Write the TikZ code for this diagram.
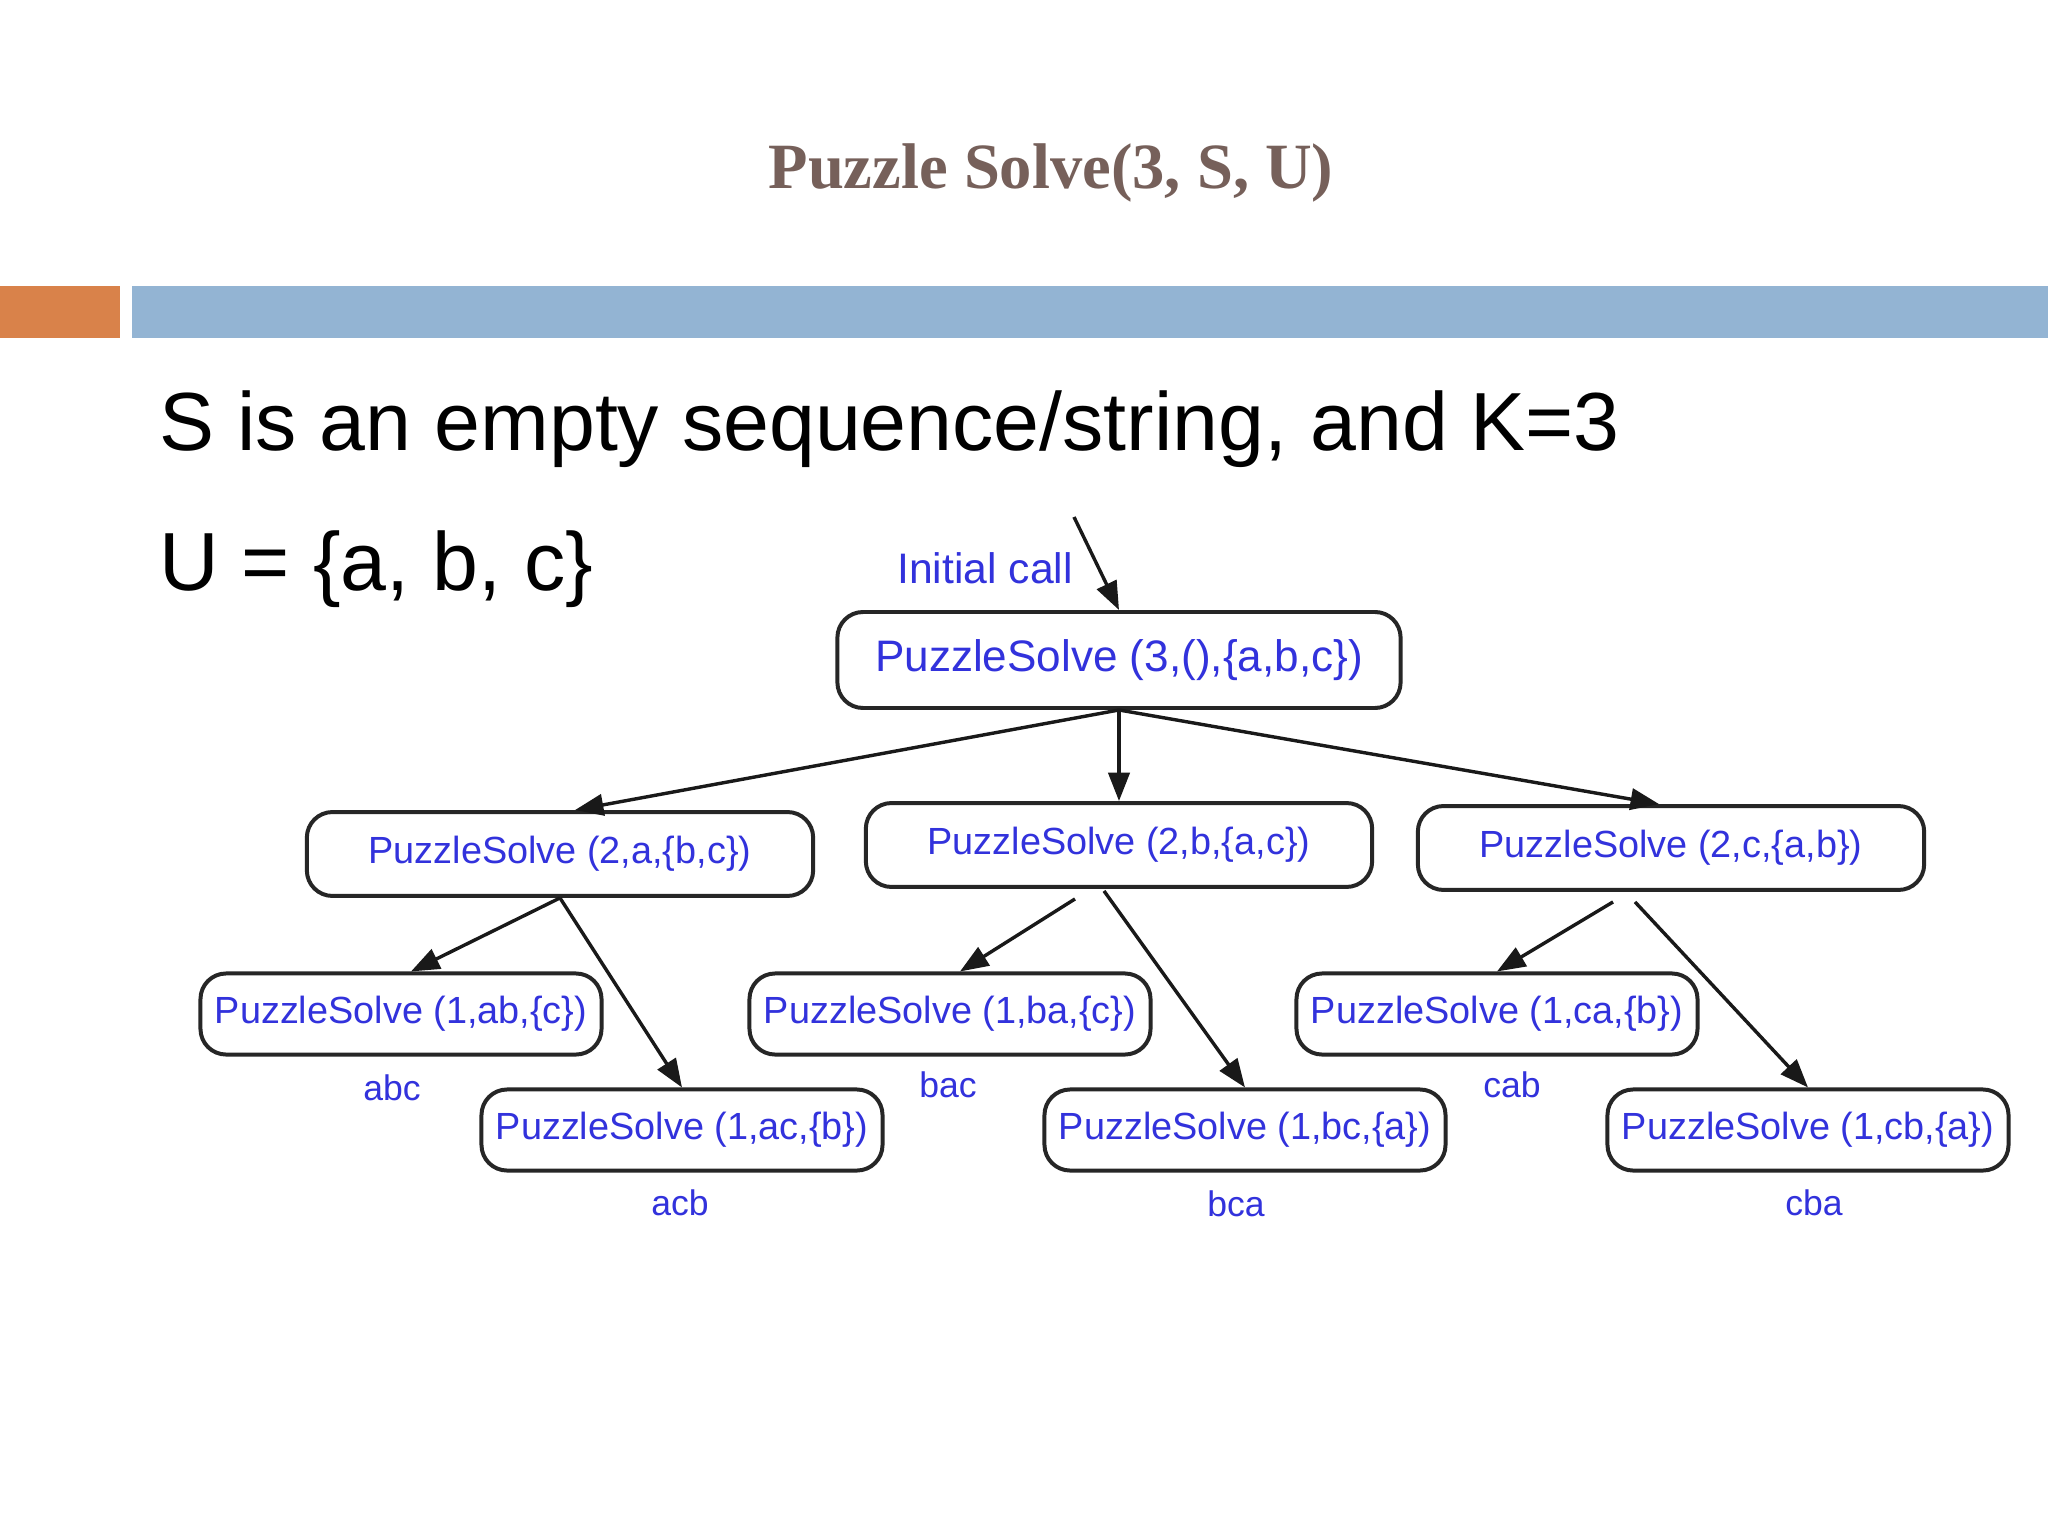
\documentclass[tikz,border=0pt]{standalone}
\usepackage{fontspec}
\setmainfont{Liberation Sans}
\newfontfamily\titlefont{Liberation Serif}
\usetikzlibrary{arrows.meta,calc}
\definecolor{titlebrown}{HTML}{76605A}
\definecolor{barorange}{HTML}{D9824A}
\definecolor{barblue}{HTML}{93B4D3}
\definecolor{treeblue}{RGB}{50,50,220}
\tikzset{
  callbox/.style={draw=black!85, line width=1.4pt, rounded corners=9pt, fill=white,
    text=treeblue, inner sep=0pt, font=\fontsize{13.3}{15}\selectfont},
  lvtwo/.style={callbox, minimum width=178pt, minimum height=29.5pt},
  lvthree/.style={callbox, minimum width=141pt, minimum height=28.5pt},
  leaflabel/.style={text=treeblue, font=\fontsize{12.5}{14}\selectfont, inner sep=0pt},
  callarrow/.style={draw=black!90, line width=1.2pt, -{Triangle[length=10pt,width=7.5pt]}},
  bodytext/.style={font=\fontsize{29}{34}\selectfont, anchor=base west, inner sep=0pt}
}
\begin{document}
\begin{tikzpicture}[x=0.3515625pt,y=-0.3515625pt]
\useasboundingbox (0,0) rectangle (2048,1536);
\fill[white] (0,0) rectangle (2048,1536);
% title and bars
\node[font=\titlefont\bfseries\fontsize{22.7}{26}\selectfont, text=titlebrown, anchor=base, inner sep=0pt] (title) at (1051,189) {Puzzle Solve(3, S, U)};
\fill[barorange] (0,286) rectangle (120,338);
\fill[barblue] (132,286) rectangle (2048,338);
% body text
\node[bodytext] (line1) at (159,451) {S is an empty sequence/string, and K=3};
\node[bodytext] (line2) at (159,590) {U = \{a, b, c\}};
% tree
\node[callbox, minimum width=198pt, minimum height=33.75pt, font=\fontsize{15.5}{18}\selectfont] (root) at (1119,660) {PuzzleSolve (3,(),\{a,b,c\})};
\node[text=treeblue, font=\fontsize{15}{18}\selectfont, inner sep=0pt] (init) at (985,568) {Initial call};
\coordinate (initstart) at (1074,517);
\node[lvtwo] (A) at (560,854) {PuzzleSolve (2,a,\{b,c\})};
\node[lvtwo] (B) at (1119,845) {PuzzleSolve (2,b,\{a,c\})};
\node[lvtwo] (C) at (1671,848) {PuzzleSolve (2,c,\{a,b\})};
\node[lvthree] (AB) at (401,1014) {PuzzleSolve (1,ab,\{c\})};
\node[lvthree] (AC) at (682,1130) {PuzzleSolve (1,ac,\{b\})};
\node[lvthree] (BA) at (950,1014) {PuzzleSolve (1,ba,\{c\})};
\node[lvthree] (BC) at (1245,1130) {PuzzleSolve (1,bc,\{a\})};
\node[lvthree] (CA) at (1497,1014) {PuzzleSolve (1,ca,\{b\})};
\node[lvthree] (CB) at (1808,1130) {PuzzleSolve (1,cb,\{a\})};
\node[leaflabel] (labc) at (392,1088) {abc};
\node[leaflabel] (lacb) at (680,1203) {acb};
\node[leaflabel] (lbac) at (948,1085) {bac};
\node[leaflabel] (lbca) at (1236,1204) {bca};
\node[leaflabel] (lcab) at (1512,1085) {cab};
\node[leaflabel] (lcba) at (1814,1203) {cba};
% connectors
\draw[callarrow] (initstart) -- (root.north);
\draw[callarrow] (root.south) -- ($(A.north)+(15,0)$);
\draw[callarrow] (root.south) -- (B.north);
\draw[callarrow] (root.south) -- ($(C.north)+(-12,0)$);
\draw[callarrow] (A.south) -- ($(AB.north)+(10,0)$);
\draw[callarrow] (A.south) -- (AC.north);
\draw[callarrow] ($(B.south)+(-44,10)$) -- ($(BA.north)+(10,0)$);
\draw[callarrow] ($(B.south)+(-15,2)$) -- (BC.north);
\draw[callarrow] ($(C.south)+(-58,10)$) -- (CA.north);
\draw[callarrow] ($(C.south)+(-36,10)$) -- (CB.north);
\end{tikzpicture}
\end{document}
